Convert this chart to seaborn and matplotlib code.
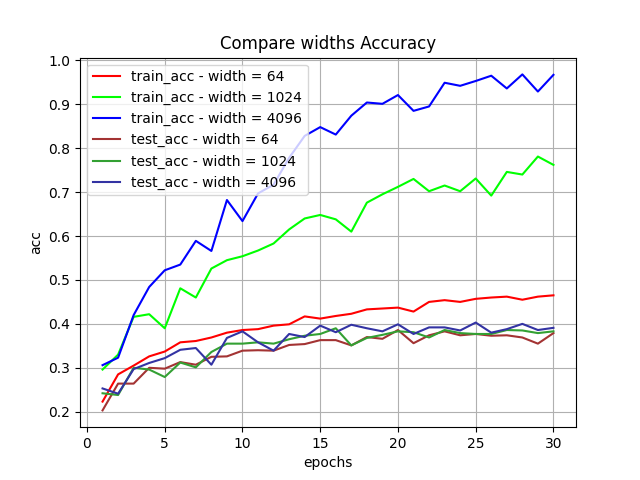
import matplotlib
matplotlib.use("Agg")
import matplotlib.pyplot as plt
import seaborn as sns
import numpy as np

epochs = np.arange(1, 31)

train_64 = [0.223, 0.285, 0.305, 0.326, 0.337, 0.358, 0.361, 0.369, 0.380, 0.386,
            0.388, 0.396, 0.399, 0.417, 0.412, 0.418, 0.423, 0.433, 0.435, 0.437,
            0.428, 0.450, 0.454, 0.450, 0.457, 0.460, 0.462, 0.455, 0.462, 0.465]
train_1024 = [0.296, 0.330, 0.416, 0.422, 0.390, 0.481, 0.460, 0.526, 0.545, 0.554,
              0.567, 0.583, 0.615, 0.640, 0.648, 0.638, 0.610, 0.676, 0.695, 0.712,
              0.730, 0.702, 0.715, 0.702, 0.731, 0.692, 0.746, 0.740, 0.781, 0.762]
train_4096 = [0.306, 0.323, 0.420, 0.484, 0.522, 0.535, 0.589, 0.566, 0.682, 0.634,
              0.697, 0.717, 0.778, 0.828, 0.848, 0.831, 0.874, 0.904, 0.901, 0.921,
              0.885, 0.895, 0.949, 0.942, 0.953, 0.965, 0.936, 0.968, 0.929, 0.967]
test_64 = [0.203, 0.264, 0.264, 0.300, 0.298, 0.313, 0.307, 0.325, 0.326, 0.339,
           0.340, 0.339, 0.352, 0.354, 0.363, 0.363, 0.351, 0.370, 0.366, 0.386,
           0.356, 0.374, 0.383, 0.374, 0.377, 0.373, 0.374, 0.369, 0.355, 0.379]
test_1024 = [0.242, 0.238, 0.300, 0.296, 0.279, 0.312, 0.301, 0.336, 0.355, 0.355,
             0.358, 0.355, 0.365, 0.373, 0.377, 0.390, 0.351, 0.368, 0.375, 0.383,
             0.381, 0.369, 0.386, 0.379, 0.377, 0.377, 0.386, 0.385, 0.379, 0.383]
test_4096 = [0.253, 0.241, 0.297, 0.311, 0.322, 0.341, 0.345, 0.307, 0.368, 0.383,
             0.358, 0.339, 0.377, 0.370, 0.396, 0.381, 0.398, 0.390, 0.383, 0.399,
             0.377, 0.392, 0.392, 0.385, 0.403, 0.380, 0.388, 0.400, 0.386, 0.391]

series = [
    ("train_acc - width = 64", train_64, "red"),
    ("train_acc - width = 1024", train_1024, "lime"),
    ("train_acc - width = 4096", train_4096, "blue"),
    ("test_acc - width = 64", test_64, "#a33333"),
    ("test_acc - width = 1024", test_1024, "#33a033"),
    ("test_acc - width = 4096", test_4096, "#3333a3"),
]

fig, ax = plt.subplots(figsize=(6.4, 4.8), dpi=100)
for label, vals, color in series:
    sns.lineplot(x=epochs, y=vals, color=color, label=label, ax=ax)

ax.set_title("Compare widths Accuracy")
ax.set_xlabel("epochs")
ax.set_ylabel("acc")
ax.grid(True)
ax.legend(loc="upper left")
plt.savefig("out.png")
plt.close()
